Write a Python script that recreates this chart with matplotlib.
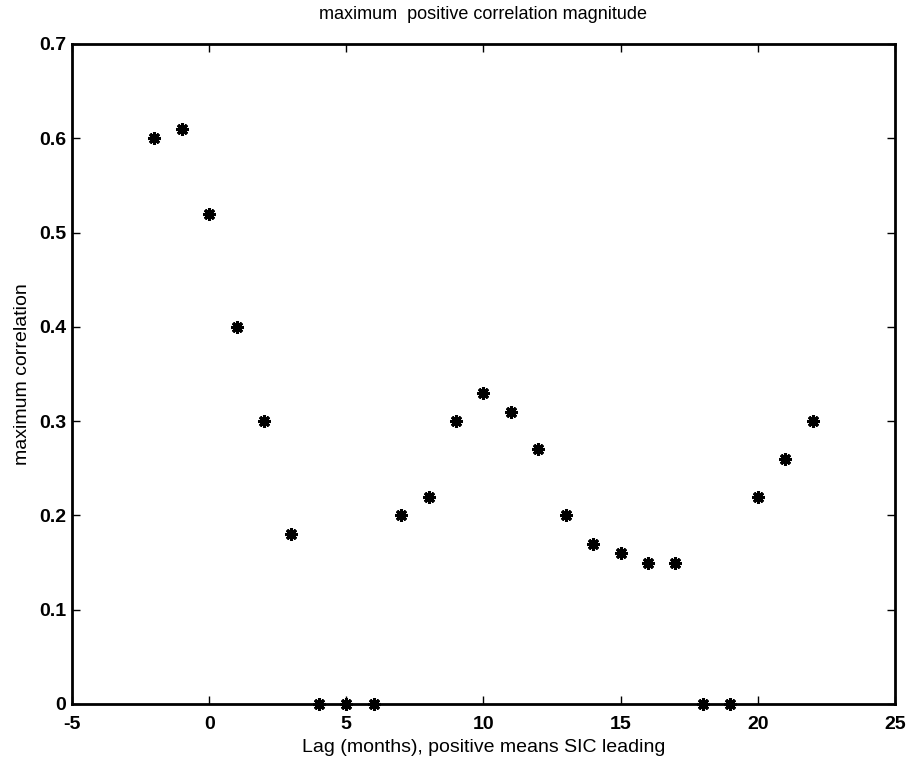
import matplotlib
matplotlib.use("Agg")
import matplotlib.pyplot as plt

lags = [-2, -1, 0, 1, 2, 3, 4, 5, 6, 7, 8, 9, 10, 11, 12, 13, 14, 15, 16, 17, 18, 19, 20, 21, 22]
max_corr = [0.60, 0.61, 0.52, 0.40, 0.30, 0.18, 0.0, 0.0, 0.0, 0.20, 0.22, 0.30, 0.33, 0.31,
            0.27, 0.20, 0.17, 0.16, 0.15, 0.15, 0.0, 0.0, 0.22, 0.26, 0.30]
xticks = [-5, 0, 5, 10, 15, 20, 25]
yticks = [0, 0.1, 0.2, 0.3, 0.4, 0.5, 0.6, 0.7]

plt.rcParams['font.family'] = ['Liberation Sans', 'DejaVu Sans']

fig = plt.figure(figsize=(9.14, 7.66), dpi=100)
ax = fig.add_axes([0.0788, 0.081, 0.9002, 0.8616])
ax.plot(lags, max_corr, linestyle='none', marker=(8, 2, 0), markersize=9,
        markeredgewidth=2.2, color='black', clip_on=False)
ax.set_xlim(-5, 25)
ax.set_ylim(0, 0.7)
ax.set_xticks(xticks)
ax.set_xticklabels([str(t) for t in xticks])
ax.set_yticks(yticks)
ax.set_yticklabels(['0'] + [f'{t:.1f}' for t in yticks[1:]])
ax.tick_params(direction='in', top=True, right=True, labelsize=14, length=6, width=1)
ax.tick_params(axis='x', pad=9)
ax.tick_params(axis='y', pad=4)
for lbl in ax.get_xticklabels() + ax.get_yticklabels():
    lbl.set_fontweight('bold')
for s in ax.spines.values():
    s.set_linewidth(2)
ax.set_xlabel('Lag (months), positive means SIC leading', fontsize=14, labelpad=4)
ax.set_ylabel('maximum correlation', fontsize=14, labelpad=6)
ax.set_title('maximum  positive correlation magnitude', fontsize=13, pad=18)
fig.savefig('out.png', dpi=100)
